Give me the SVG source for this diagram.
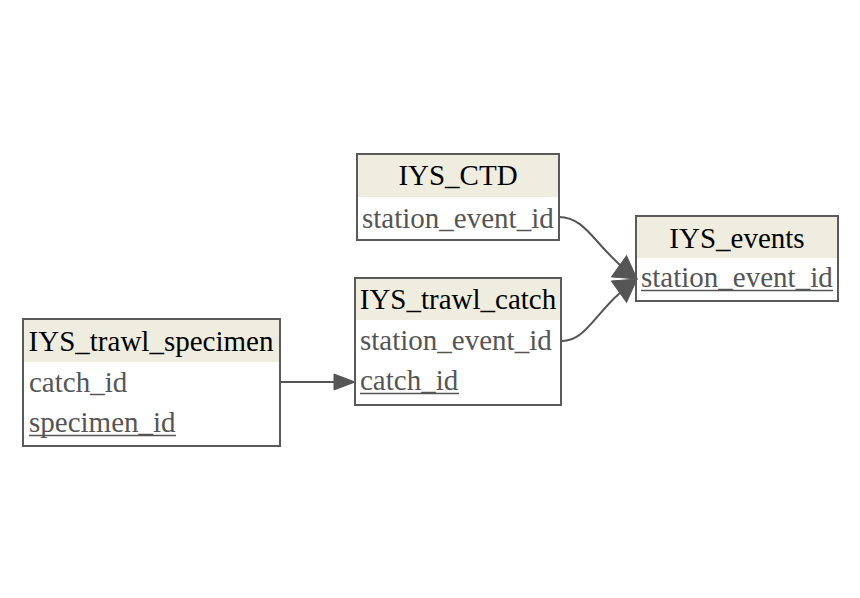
<svg xmlns="http://www.w3.org/2000/svg" width="860" height="598" viewBox="0 0 860 598">
<style>
.box{fill:none;stroke:#5a5a5a;stroke-width:2}
.hdr{fill:#efede0}
.t{font-family:"Liberation Serif","Times New Roman",serif;font-size:29px}
.h{fill:#000}
.r{fill:#555}
.ul{stroke:#555;stroke-width:1.3}
.e{fill:none;stroke:#555;stroke-width:2}
</style>
<defs>
<marker id="ah" markerUnits="userSpaceOnUse" markerWidth="26" markerHeight="30" refX="23" refY="14" orient="auto" viewBox="0 0 26 28">
<path d="M1,1 L23,14 L1,27 Z" fill="#555" stroke="#555" stroke-width="1"/>
</marker>
<marker id="ah2" markerUnits="userSpaceOnUse" markerWidth="24" markerHeight="20" refX="22" refY="9" orient="auto" viewBox="0 0 24 18">
<path d="M1,1 L22,9 L1,17 Z" fill="#555" stroke="#555" stroke-width="1"/>
</marker>
</defs>
<rect width="860" height="598" fill="#fff"/>
<g id="connectors">
<path class="e" d="M559,217 C588,217 596,250 637,279" marker-end="url(#ah)"/>
<path class="e" d="M562,341 C588,341 596,308 637,279" marker-end="url(#ah)"/>
<path class="e" d="M279,382 L355,382" marker-end="url(#ah2)"/>
</g>
<g id="IYS_CTD">
<rect class="hdr" x="357" y="154" width="202" height="43"/>
<rect class="box" x="357" y="154" width="202" height="86"/>
<text class="t h" x="458" y="185" text-anchor="middle">IYS_CTD</text>
<text class="t r" x="362" y="228">station_event_id</text>
</g>
<g id="IYS_events">
<rect class="hdr" x="636" y="216" width="202" height="42"/>
<rect class="box" x="636" y="216" width="202" height="85"/>
<text class="t h" x="737" y="248" text-anchor="middle">IYS_events</text>
<text class="t r" x="641" y="287">station_event_id</text>
<line class="ul" x1="641" y1="290.5" x2="833" y2="290.5"/>
</g>
<g id="IYS_trawl_catch">
<rect class="hdr" x="355" y="278" width="206" height="42"/>
<rect class="box" x="355" y="278" width="206" height="127"/>
<text class="t h" x="458" y="309" text-anchor="middle">IYS_trawl_catch</text>
<text class="t r" x="360" y="350">station_event_id</text>
<text class="t r" x="360" y="390">catch_id</text>
<line class="ul" x1="360" y1="393.5" x2="459" y2="393.5"/>
</g>
<g id="IYS_trawl_specimen">
<rect class="hdr" x="23" y="319" width="257" height="43"/>
<rect class="box" x="23" y="319" width="257" height="127"/>
<text class="t h" x="151" y="351" text-anchor="middle">IYS_trawl_specimen</text>
<text class="t r" x="29" y="392">catch_id</text>
<text class="t r" x="29" y="432">specimen_id</text>
<line class="ul" x1="29" y1="435.5" x2="176" y2="435.5"/>
</g>
</svg>
